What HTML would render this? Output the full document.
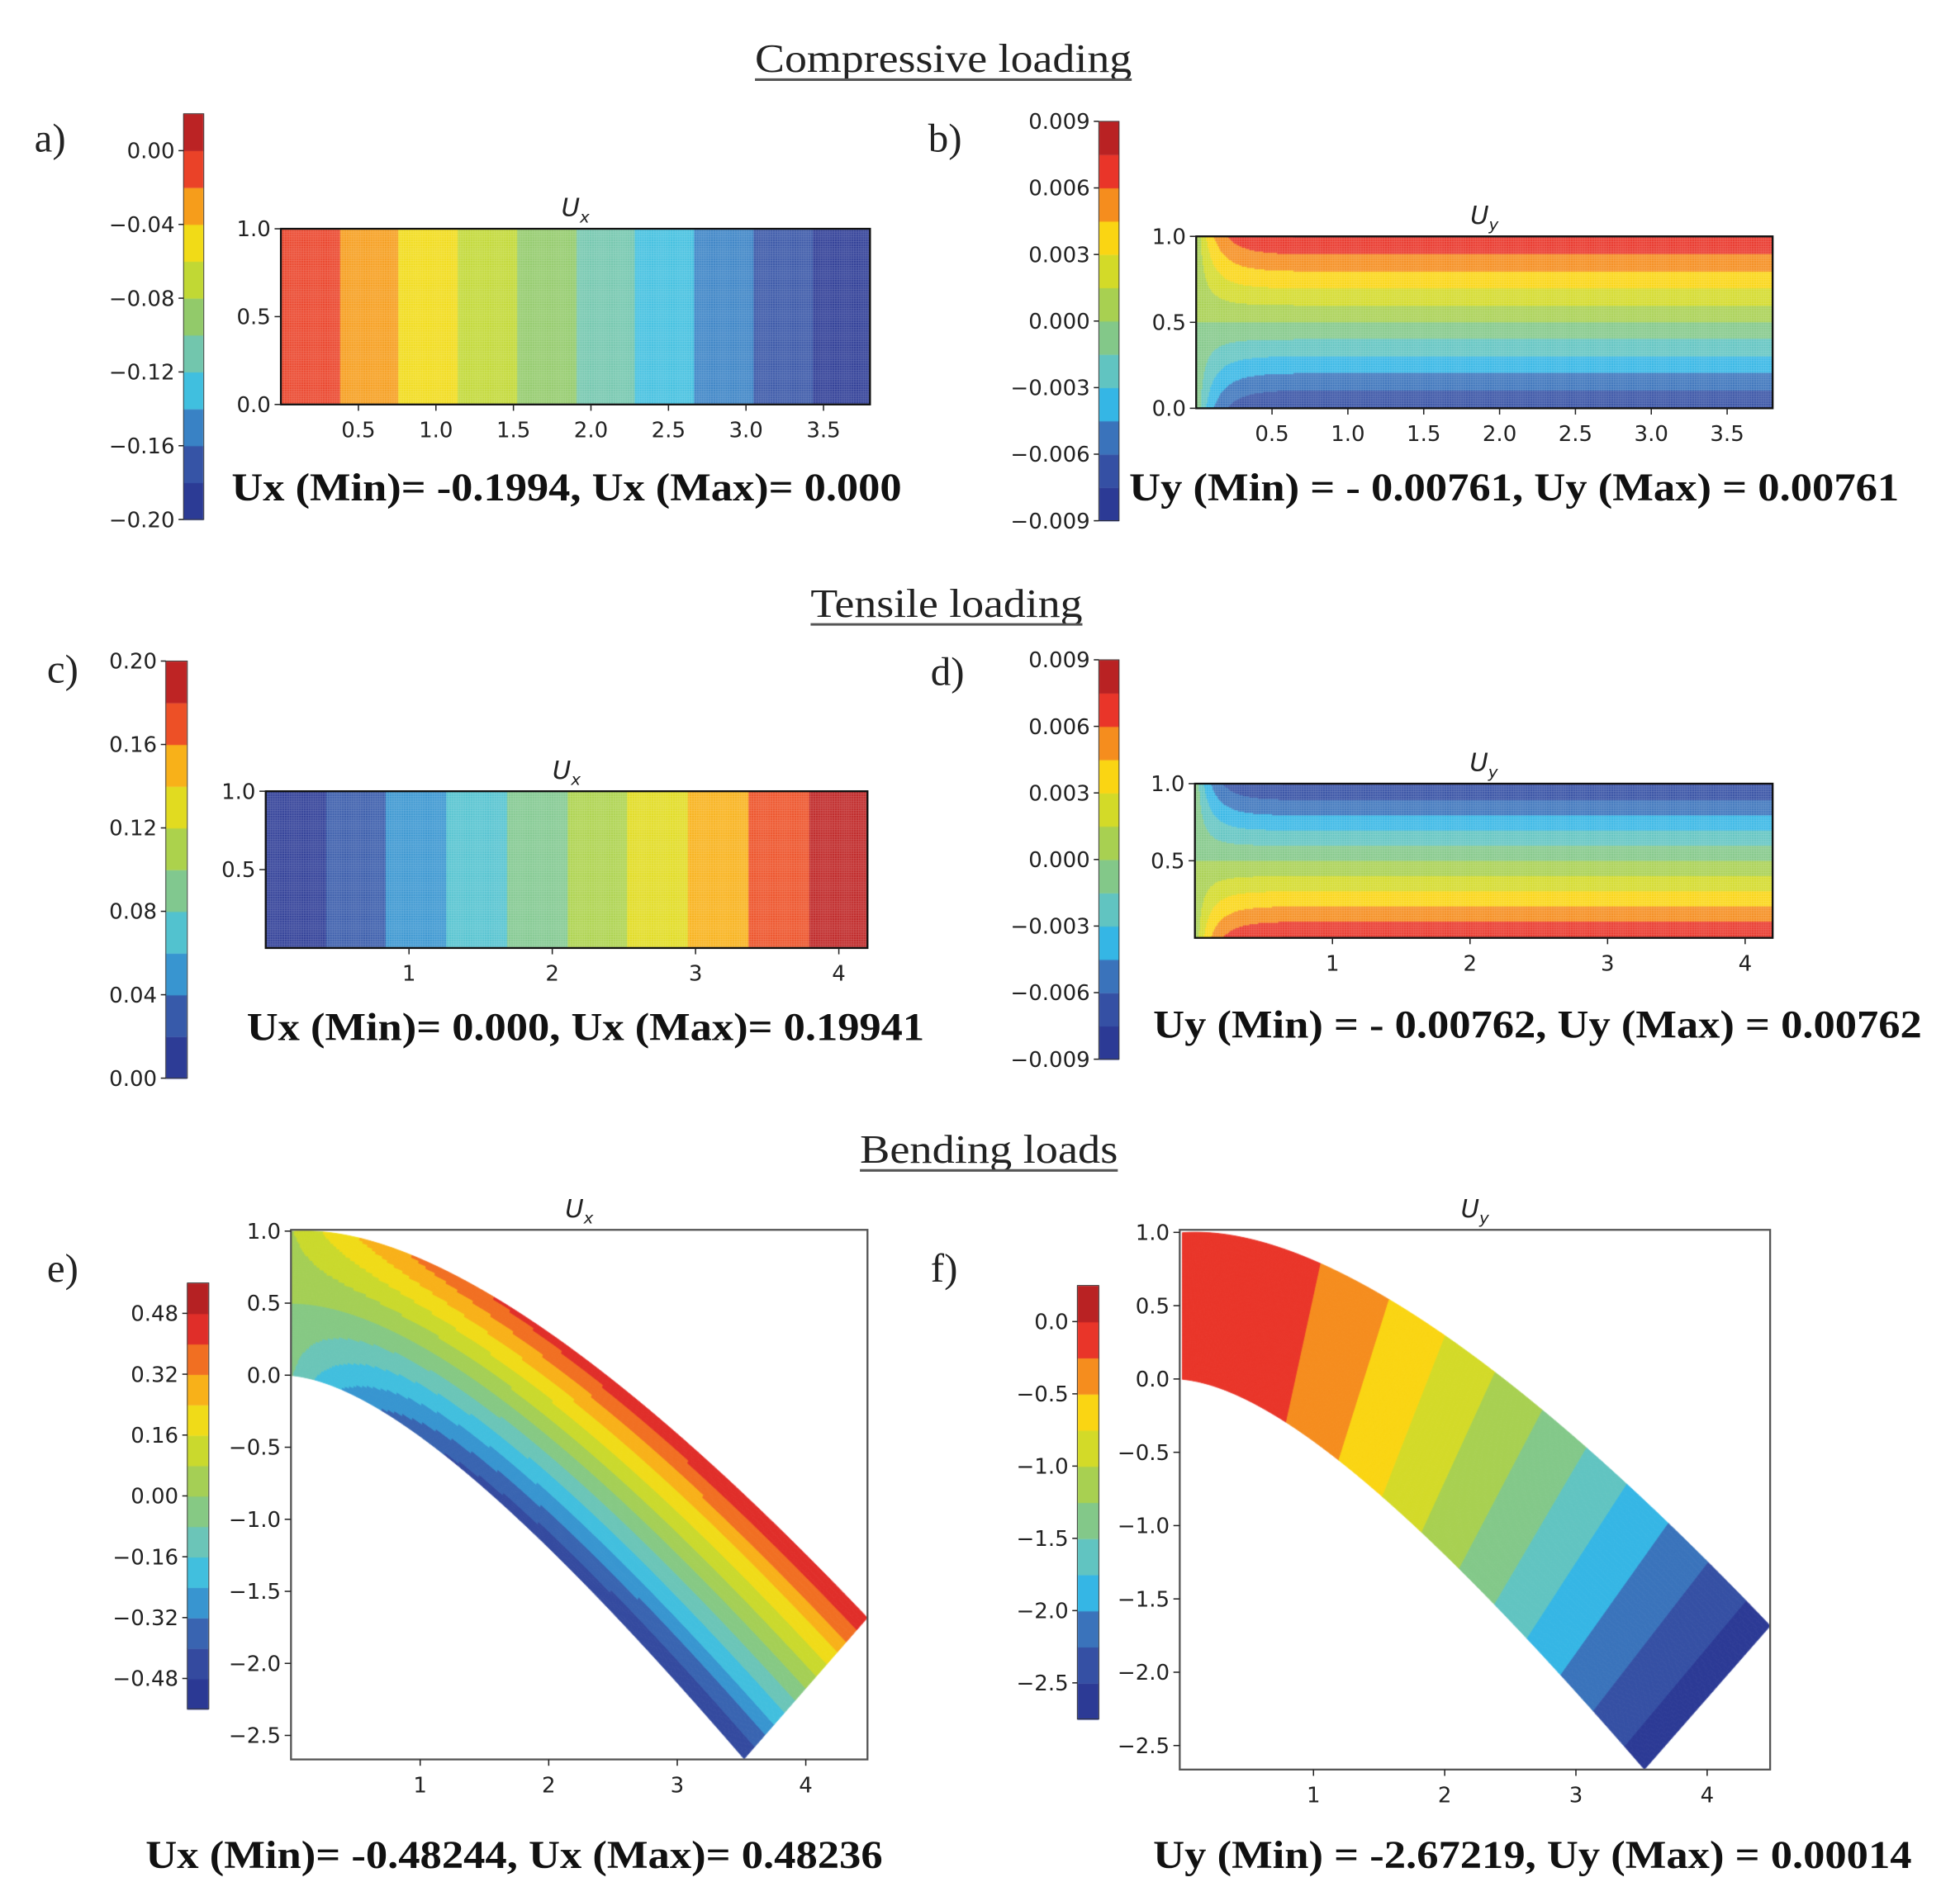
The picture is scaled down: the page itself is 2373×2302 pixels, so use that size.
<!DOCTYPE html>
<html><head><meta charset="utf-8">
<style>
html,body{margin:0;padding:0;background:#fff;}
#root{position:relative;width:2373px;height:2302px;overflow:hidden;background:#fff;}
#fields{position:absolute;left:0;top:0;}
#overlay{position:absolute;left:0;top:0;}
</style></head>
<body>
<div id="root">
<canvas id="fields" width="2373" height="2302"></canvas>
<svg id="overlay" width="2373" height="2302" viewBox="0 0 1550 1504" xmlns="http://www.w3.org/2000/svg">
<g font-family="'Liberation Serif', serif" fill="#222">
<text x="597" y="57" font-size="32" textLength="298" lengthAdjust="spacingAndGlyphs">Compressive loading</text>
<line x1="597" y1="63" x2="895" y2="63" stroke="#555" stroke-width="2"/>
<text x="641" y="488" font-size="32" textLength="215" lengthAdjust="spacingAndGlyphs">Tensile loading</text>
<line x1="641" y1="494" x2="856" y2="494" stroke="#555" stroke-width="2"/>
<text x="680" y="920" font-size="32" textLength="204" lengthAdjust="spacingAndGlyphs">Bending loads</text>
<line x1="680" y1="926" x2="884" y2="926" stroke="#555" stroke-width="2"/>
<text x="27" y="120" font-size="32">a)</text>
<text x="734" y="120" font-size="32">b)</text>
<text x="37" y="540" font-size="32">c)</text>
<text x="736" y="542" font-size="32">d)</text>
<text x="37" y="1014" font-size="32">e)</text>
<text x="736" y="1014" font-size="32">f)</text>
</g>
<g font-family="'Liberation Serif', serif" font-weight="bold" font-size="31" fill="#111">
<text x="183" y="396" textLength="530" lengthAdjust="spacingAndGlyphs">Ux (Min)= -0.1994, Ux (Max)= 0.000</text>
<text x="893" y="396" textLength="609" lengthAdjust="spacingAndGlyphs">Uy (Min) = - 0.00761, Uy (Max) = 0.00761</text>
<text x="195" y="823" textLength="536" lengthAdjust="spacingAndGlyphs">Ux (Min)= 0.000, Ux (Max)= 0.19941</text>
<text x="912" y="821" textLength="608" lengthAdjust="spacingAndGlyphs">Uy (Min) = - 0.00762, Uy (Max) = 0.00762</text>
<text x="115" y="1478" textLength="583" lengthAdjust="spacingAndGlyphs">Ux (Min)= -0.48244, Ux (Max)= 0.48236</text>
<text x="912" y="1478" textLength="600" lengthAdjust="spacingAndGlyphs">Uy (Min) = -2.67219, Uy (Max) = 0.00014</text>
</g>
<g id="axes"></g>
</svg>
</div>
<script>
// ---- data arrays ----
const aLevels=[-0.20,0.02,0.02];
const aCbTicks=[0.00,-0.04,-0.08,-0.12,-0.16,-0.20];
const aXTicks=[0.5,1.0,1.5,2.0,2.5,3.0,3.5];
const aYTicks=[0.0,0.5,1.0];
const aUxMin=-0.1994;
const bLevels=[-0.009,0.009,0.0015];
const bCbTicks=[0.009,0.006,0.003,0.000,-0.003,-0.006,-0.009];
const bXTicks=[0.5,1.0,1.5,2.0,2.5,3.0,3.5];
const bYTicks=[0.0,0.5,1.0];
const bUyMax=0.00761;
const cLevels=[0.0,0.20,0.02];
const cCbTicks=[0.20,0.16,0.12,0.08,0.04,0.00];
const cXTicks=[1,2,3,4];
const cYTicks=[0.5,1.0];
const cUxMax=0.19941;
const dLevels=[-0.009,0.009,0.0015];
const dCbTicks=[0.009,0.006,0.003,0.000,-0.003,-0.006,-0.009];
const dXTicks=[1,2,3,4];
const dYTicks=[0.5,1.0];
const dUyMax=0.00762;
const eLevels=[-0.56,0.56,0.08];
const eCbTicks=[0.48,0.32,0.16,0.00,-0.16,-0.32,-0.48];
const eXTicks=[1,2,3,4];
const eYTicks=[1.0,0.5,0.0,-0.5,-1.0,-1.5,-2.0,-2.5];
const eUxMax=0.48;
const fLevels=[-2.75,0.25,0.25];
const fCbTicks=[0.0,-0.5,-1.0,-1.5,-2.0,-2.5];
const fXTicks=[1,2,3,4];
const fYTicks=[1.0,0.5,0.0,-0.5,-1.0,-1.5,-2.0,-2.5];
const beamTip=[4.0,-2.17];
const beamCtrl=[1.28,0.5];

// ---- helpers ----
const S=2373/1550;
const cv=document.getElementById('fields');
const ctx=cv.getContext('2d');
ctx.scale(S,S);
const NS='http://www.w3.org/2000/svg';
const axes=document.getElementById('axes');
const stops=[[0,[39,49,143]],[0.1,[51,71,157]],[0.2,[58,108,183]],[0.3,[53,189,233]],[0.4,[111,198,180]],[0.5,[146,202,106]],[0.6,[198,217,47]],[0.7,[251,220,18]],[0.8,[244,134,31]],[0.88,[232,48,42]],[1,[160,27,32]]];
function jet(t){t=Math.max(0,Math.min(1,t));for(let i=1;i<stops.length;i++){if(t<=stops[i][0]){const a=stops[i-1],b=stops[i];const u=(t-a[0])/(b[0]-a[0]);return 'rgb('+a[1].map((c,k)=>Math.round(c+(b[1][k]-c)*u)).join(',')+')';}}return 'rgb(160,27,32)';}
function lvColor(v,L){const lo=L[0],hi=L[1],st=L[2];const n=Math.round((hi-lo)/st);let k=Math.floor((v-lo)/st);k=Math.max(0,Math.min(n-1,k));return jet((k+0.5)/n);}
function lin(p0,p1,d0,d1){return v=>p0+(v-d0)*(p1-p0)/(d1-d0);}
function mk(tag,attrs,parent){const e=document.createElementNS(NS,tag);for(const k in attrs)e.setAttribute(k,attrs[k]);(parent||axes).appendChild(e);return e;}
function fmt(v,d){const s=Math.abs(v).toFixed(d);return (v<0?'\u2212':'')+s;}
const TF=17;
function colorbar(name,x,w,yTop,yBot,L,ticks,dec){
  const y=lin(yBot,yTop,L[0],L[1]);const n=Math.round((L[1]-L[0])/L[2]);
  for(let k=0;k<n;k++){ctx.fillStyle=jet((k+0.5)/n);const y0=y(L[0]+(k+1)*L[2]),y1=y(L[0]+k*L[2]);ctx.fillRect(x,y0,w,y1-y0+0.3);}
  const r=mk('rect',{x:x,y:yTop,width:w,height:yBot-yTop,fill:'none',stroke:'#333','stroke-width':0.6});
  
  
  ticks.forEach(t=>{const yy=y(t);
    mk('line',{x1:x-4,y1:yy,x2:x,y2:yy,stroke:'#222','stroke-width':1});
    const tx=mk('text',{x:x-7,y:yy+6,'text-anchor':'end','font-size':TF,'font-family':"'DejaVu Sans', sans-serif",fill:'#222'});
    tx.textContent=fmt(t,dec);
    
    
  });
}
function frame(name,x0,y0,x1,y1,X,Y,xt,yt,xd,yd,title,sub,color){
  const r=mk('rect',{x:x0,y:y0,width:x1-x0,height:y1-y0,fill:'none',stroke:color||'#111','stroke-width':1.5});
  
  
  xt.forEach(t=>{const xx=X(t);mk('line',{x1:xx,y1:y1,x2:xx,y2:y1+5,stroke:'#222','stroke-width':1});
    const tx=mk('text',{x:xx,y:y1+26,'text-anchor':'middle','font-size':TF,'font-family':"'DejaVu Sans', sans-serif",fill:'#222'});
    tx.textContent=fmt(t,xd);
    
    });
  yt.forEach(t=>{const yy=Y(t);mk('line',{x1:x0-5,y1:yy,x2:x0,y2:yy,stroke:'#222','stroke-width':1});
    const tx=mk('text',{x:x0-8,y:yy+6,'text-anchor':'end','font-size':TF,'font-family':"'DejaVu Sans', sans-serif",fill:'#222'});
    tx.textContent=fmt(t,yd);
    
    });
  const tt=mk('text',{x:(x0+x1)/2,y:y0-10,'text-anchor':'middle','font-size':20,'font-style':'italic','font-family':"'DejaVu Sans', sans-serif",fill:'#222'});
  tt.innerHTML='U<tspan font-size="13" dy="5">'+sub+'</tspan>';
  
  
}
function rectField(x0,y0,x1,y1,X,Y,fn,L){
  const dx=(X(1)-X(0)), dy=(Y(1)-Y(0));
  for(let px=x0;px<x1;px+=1){for(let py=y0;py<y1;py+=1){
    const dxv=(px+0.5-X(0))/dx, dyv=(py+0.5-Y(0))/dy;
    ctx.fillStyle=lvColor(fn(dxv,dyv),L);ctx.fillRect(px,py,1.05,1.05);}}
}
(function(){const X=lin(222,688,0,3.8),Y=lin(320,181,0,1);
 rectField(222,181,688,320,X,Y,(x,y)=>aUxMin*x/3.8,aLevels);
 frame('panel-a',222,181,688,320,X,Y,aXTicks,aYTicks,1,1,'','x');
 colorbar('panel-a',145,16,90,411,aLevels,aCbTicks,2);})();
(function(){const X=lin(946,1402,0,3.8),Y=lin(323,187,0,1);
 rectField(946,187,1402,323,X,Y,(x,y)=>bUyMax*(2*y-1)*(1-Math.exp(-Math.max(x,0)/0.13)),bLevels);
 frame('panel-b',946,187,1402,323,X,Y,bXTicks,bYTicks,1,1,'','y');
 colorbar('panel-b',869,16,96,412,bLevels,bCbTicks,3);})();
(function(){const X=lin(210,686,0,4.2),Y=lin(750,626,0,1);
 rectField(210,626,686,750,X,Y,(x,y)=>cUxMax*x/4.2,cLevels);
 frame('panel-c',210,626,686,750,X,Y,cXTicks,cYTicks,0,1,'','x');
 colorbar('panel-c',131,17,523,853,cLevels,cCbTicks,2);})();
(function(){const X=lin(945,1402,0,4.2),Y=lin(742,620,0,1);
 rectField(945,620,1402,742,X,Y,(x,y)=>-dUyMax*(2*y-1)*(1-Math.exp(-Math.max(x,0)/0.13)),dLevels);
 frame('panel-d',945,620,1402,742,X,Y,dXTicks,dYTicks,0,1,'','y');
 colorbar('panel-d',869,16,522,838,dLevels,dCbTicks,3);})();
function beam(s,t){const a=(1-s)*(1-s),b=2*s*(1-s),c=s*s;
 const cx=b*beamCtrl[0]+c*beamTip[0], cy=a*0.5+b*beamCtrl[1]+c*beamTip[1];
 const ang=(90-44.4*s)*Math.PI/180, m=1+0.37*s;
 return [cx+(t-0.5)*m*Math.cos(ang), cy+(t-0.5)*m*Math.sin(ang), cy-0.5];}
function beamField(X,Y,fn,L,x0,y0,x1,y1){
 ctx.save();ctx.beginPath();ctx.rect(x0,y0,x1-x0,y1-y0);ctx.clip();
 const NS_=260,NT=70;
 for(let i=0;i<NS_;i++){for(let j=0;j<NT;j++){
  const s0=i/NS_,s1=(i+1)/NS_,t0=j/NT,t1=(j+1)/NT;
  const p=[beam(s0,t0),beam(s1,t0),beam(s1,t1),beam(s0,t1)];
  const col=lvColor(fn((s0+s1)/2,(t0+t1)/2),L);
  ctx.fillStyle=col;ctx.strokeStyle=col;ctx.lineWidth=0.6;
  ctx.beginPath();p.forEach((q,k)=>{const px=X(q[0]),py=Y(q[1]);k?ctx.lineTo(px,py):ctx.moveTo(px,py);});
  ctx.closePath();ctx.fill();ctx.stroke();}}
 ctx.restore();}
(function(){const X=lin(230.5,686,0,4.48),Y=lin(1088,974,0,1);
 beamField(X,Y,(s,t)=>eUxMax*(2*t-1)*(0.15+0.85*(1-Math.pow(1-s,3))),eLevels,230,973,686,1392);
 frame('panel-e',230,973,686,1392,X,Y,eXTicks,eYTicks,0,1,'','x','#555');
 colorbar('panel-e',148,17,1015,1352,eLevels,eCbTicks,2);})();
(function(){const X=lin(935,1400,0,4.48),Y=lin(1091,975,0,1);
 beamField(X,Y,(s,t)=>beam(s,0.5)[2],fLevels,933,973,1400,1400);
 frame('panel-f',933,973,1400,1400,X,Y,fXTicks,fYTicks,0,1,'','y','#555');
 colorbar('panel-f',852,17,1017,1360,fLevels,fCbTicks,1);})();
</script>
</body></html>
